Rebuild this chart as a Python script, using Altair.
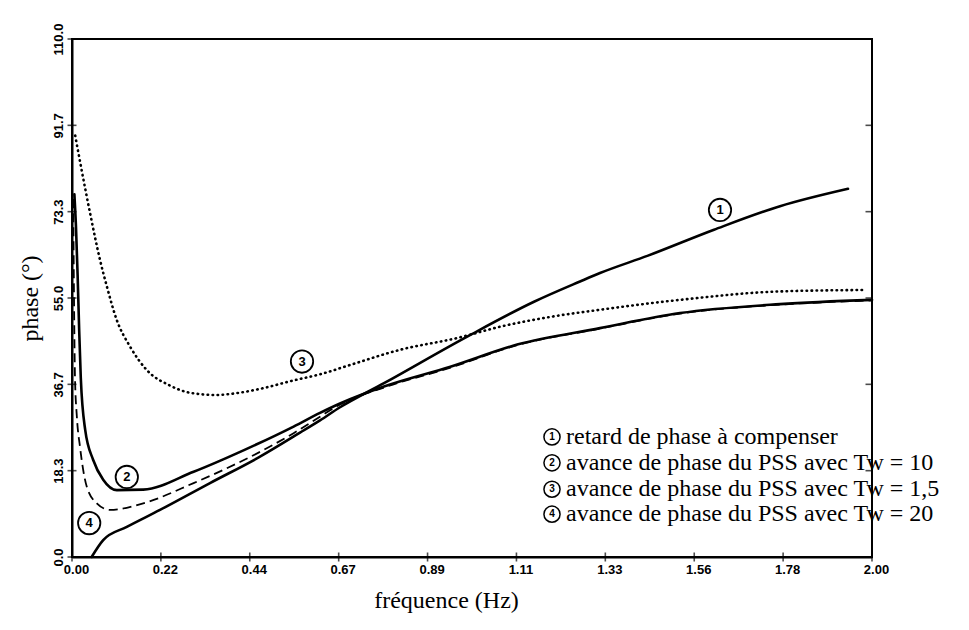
import altair as alt
import pandas as pd

# ---- data ----
c1_x = [0.049, 0.078, 0.137, 0.22, 0.345, 0.47, 0.57, 0.62, 0.67, 0.78, 0.988, 1.155, 1.27, 1.32, 1.44, 1.605, 1.77, 1.94]
c1_y = [0.0, 3.6, 6.4, 10.0, 15.7, 21.3, 26.4, 29.0, 31.8, 36.9, 46.8, 54.2, 58.5, 60.3, 64.0, 69.5, 74.5, 78.2]

c2_x = [0.006, 0.010, 0.014, 0.018, 0.022, 0.033, 0.053, 0.078, 0.112, 0.178, 0.304, 0.43, 0.554, 0.62, 0.67, 0.78, 0.946, 1.113, 1.32, 1.52, 1.77, 2.0]
c2_y = [77.0, 70.0, 60.0, 48.0, 38.0, 27.0, 20.6, 16.4, 14.2, 14.3, 18.1, 22.7, 27.7, 30.6, 32.6, 36.2, 40.4, 45.1, 48.6, 51.8, 53.7, 54.6]

c3_x = [0.008, 0.024, 0.045, 0.07, 0.087, 0.112, 0.145, 0.187, 0.245, 0.30, 0.36, 0.42, 0.47, 0.554, 0.62, 0.696, 0.82, 0.963, 1.07, 1.197, 1.32, 1.52, 1.77, 1.985]
c3_y = [89.5, 82.2, 73.1, 63.1, 57.5, 50.3, 44.7, 39.7, 36.4, 34.8, 34.4, 34.9, 35.7, 37.5, 38.8, 40.8, 44.0, 46.5, 48.9, 51.0, 52.5, 54.6, 56.4, 56.7]

c4_x = [0.003, 0.005, 0.0075, 0.012, 0.02, 0.037, 0.062, 0.095, 0.178, 0.304, 0.43, 0.554, 0.62, 0.67, 0.78, 0.946, 1.113, 1.32, 1.52, 1.77, 2.0]
c4_y = [76.0, 55.0, 38.0, 30.0, 23.4, 14.9, 11.4, 10.0, 11.4, 15.7, 20.6, 26.3, 29.8, 32.4, 36.0, 40.2, 45.0, 48.5, 51.7, 53.6, 54.5]

x_ticks = [0.0, 0.2222, 0.4444, 0.6667, 0.8889, 1.1111, 1.3333, 1.5556, 1.7778, 2.0]
y_ticks = [0.0, 18.333, 36.667, 55.0, 73.333, 91.667, 110.0]

# curve label bubbles (number, x, y)
bubble_n = ["1", "2", "3", "4"]
bubble_x = [1.62, 0.137, 0.575, 0.043]
bubble_y = [73.7, 17.0, 41.5, 7.2]

# legend annotation
legend_n = ["1", "2", "3", "4"]
legend_text = [
    "retard de phase à compenser",
    "avance de phase du PSS avec Tw = 10",
    "avance de phase du PSS avec Tw = 1,5",
    "avance de phase du PSS avec Tw = 20",
]
legend_cx = 1.2
legend_tx = 1.235
legend_y = [25.5, 20.0, 14.4, 9.1]

# ---- build tables ----
def curve_df(xs, ys):
    return pd.DataFrame({"f": xs, "phase": ys})

xs = alt.Scale(domain=[0, 2], nice=False, zero=False)
ys = alt.Scale(domain=[0, 110], nice=False)

X = alt.X("f:Q", scale=xs,
          axis=alt.Axis(values=x_ticks, format=".2f", title="fréquence (Hz)",
                        ticks=False, labelOffset=4, labelPadding=6, labelFlush=False,
                        titleX=374, titleY=43, titleAnchor="middle",
                        titleBaseline="middle"))
Y = alt.Y("phase:Q", scale=ys,
          axis=alt.Axis(values=y_ticks, format=".1f", title="phase (°)",
                        ticks=False, labelAngle=270, labelAlign="center",
                        labelBaseline="bottom", labelPadding=7, labelFlush=False,
                        titleX=-42, titleY=259, titleAngle=270,
                        titleAlign="center", titleBaseline="middle"))

def line_layer(xs_, ys_, **kw):
    return alt.Chart(curve_df(xs_, ys_)).mark_line(
        color="black", interpolate="monotone", **kw
    ).encode(x=X, y=Y)

l1 = line_layer(c1_x, c1_y, strokeWidth=2.6, strokeCap="round")
l2 = line_layer(c2_x, c2_y, strokeWidth=2.6, strokeCap="round")
l3 = line_layer(c3_x, c3_y, strokeWidth=2.6, strokeCap="round", strokeDash=[0.5, 4.5])
l4 = line_layer(c4_x, c4_y, strokeWidth=1.8, strokeDash=[9, 5])

# axis ticks crossing the frame
xt = alt.Chart(pd.DataFrame({"f": x_ticks, "phase": [0.0] * len(x_ticks)})).mark_tick(
    orient="vertical", color="black", size=9, thickness=1.6
).encode(x=alt.X("f:Q", scale=xs), y=alt.Y("phase:Q", scale=ys))
yt = alt.Chart(pd.DataFrame({"f": [0.0] * len(y_ticks), "phase": y_ticks})).mark_tick(
    orient="horizontal", color="black", size=9, thickness=1.6
).encode(x=alt.X("f:Q", scale=xs), y=alt.Y("phase:Q", scale=ys))
rt = alt.Chart(pd.DataFrame({"f": [2.0] * len(y_ticks), "phase": y_ticks})).mark_tick(
    orient="horizontal", color="black", size=7, thickness=1.6, xOffset=-3
).encode(x=alt.X("f:Q", scale=xs), y=alt.Y("phase:Q", scale=ys))

bub = pd.DataFrame({"n": bubble_n, "f": bubble_x, "phase": bubble_y})
b_circ = alt.Chart(bub).mark_point(
    shape="circle", size=500, filled=True, fill="white", stroke="black",
    strokeWidth=1.8, opacity=1
).encode(x=alt.X("f:Q", scale=xs), y=alt.Y("phase:Q", scale=ys))
b_txt = alt.Chart(bub).mark_text(
    font="Liberation Sans", fontWeight="bold", fontSize=13, color="black",
    baseline="middle", align="center"
).encode(x=alt.X("f:Q", scale=xs), y=alt.Y("phase:Q", scale=ys), text="n:N")

leg = pd.DataFrame({"n": legend_n, "t": legend_text, "phase": legend_y,
                    "cx": [legend_cx] * 4, "tx": [legend_tx] * 4})
g_circ = alt.Chart(leg).mark_point(
    shape="circle", size=260, filled=True, fill="white", stroke="black",
    strokeWidth=1.5, opacity=1
).encode(x=alt.X("cx:Q", scale=xs), y=alt.Y("phase:Q", scale=ys))
g_num = alt.Chart(leg).mark_text(
    font="Liberation Sans", fontWeight="bold", fontSize=10, color="black",
    baseline="middle", align="center"
).encode(x=alt.X("cx:Q", scale=xs), y=alt.Y("phase:Q", scale=ys), text="n:N")
g_txt = alt.Chart(leg).mark_text(
    font="Liberation Serif", fontSize=24, color="black",
    baseline="middle", align="left"
).encode(x=alt.X("tx:Q", scale=xs), y=alt.Y("phase:Q", scale=ys), text="t:N")

chart = alt.layer(
    l1, l2, l3, l4, xt, yt, rt, b_circ, b_txt, g_circ, g_num, g_txt
).properties(
    width=800, height=518,
    background="white",
    autosize=alt.AutoSizeParams(type="none"),
    padding={"left": 64, "top": 31, "right": 89, "bottom": 65},
).configure_view(
    stroke="black", strokeWidth=2
).configure_axis(
    grid=False, domainColor="black", domainWidth=2,
    labelFont="Liberation Sans", labelFontWeight="bold", labelFontSize=13,
    labelColor="black",
    titleFont="Liberation Serif", titleFontWeight="normal", titleFontSize=24,
    titleColor="black",
)

chart.save("out.html", embed_options={"renderer": "svg", "actions": False})
